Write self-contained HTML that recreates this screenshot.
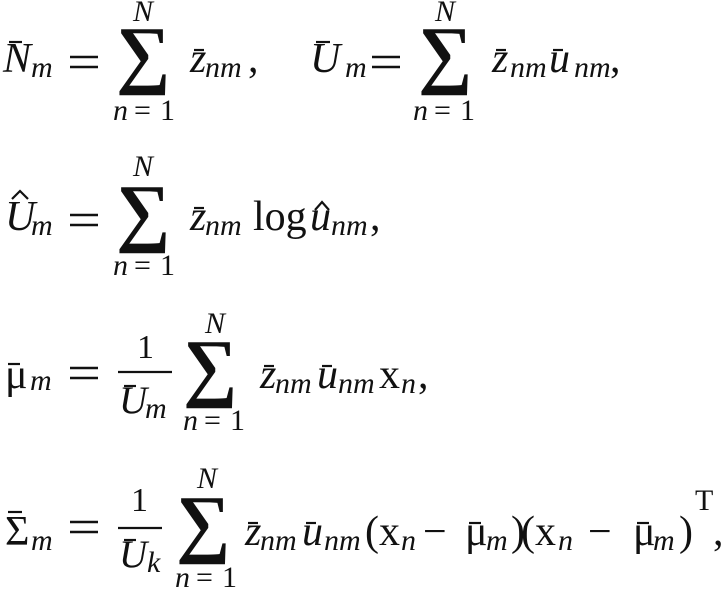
<!DOCTYPE html>
<html><head><meta charset="utf-8"><style>
html,body{margin:0;padding:0;background:#fff}
svg{display:block}
text{font-family:"Liberation Serif",serif;fill:#111}
.i{font-style:italic}
.M{font-size:42px}.S{font-size:30px}.B{font-size:76px;font-weight:bold}.F{font-size:34px}.FU{font-size:39px}
</style></head><body>
<svg width="726" height="591" viewBox="0 0 726 591" xmlns="http://www.w3.org/2000/svg">
<g stroke="#111" stroke-width="2.2" fill="none">
<line x1="9" y1="42" x2="22" y2="42"/><line x1="194" y1="50" x2="204" y2="50"/>
<line x1="316" y1="42" x2="330" y2="42"/><line x1="496" y1="50" x2="506" y2="50"/><line x1="553" y1="50" x2="563" y2="50"/>
<line x1="194" y1="208" x2="204" y2="208"/>
<line x1="8" y1="364" x2="20" y2="364"/><line x1="264" y1="366" x2="274" y2="366"/><line x1="322" y1="366" x2="332" y2="366"/>
<line x1="124" y1="386" x2="136" y2="386"/>
<line x1="8" y1="512" x2="22" y2="512"/><line x1="248" y1="523" x2="258" y2="523"/><line x1="306" y1="523" x2="316" y2="523"/>
<line x1="469" y1="523" x2="481" y2="523"/><line x1="637" y1="523" x2="649" y2="523"/><line x1="124" y1="540" x2="136" y2="540"/>
<line x1="118" y1="372" x2="172" y2="372"/><line x1="118" y1="528" x2="162" y2="528"/>
<polyline points="12,199 20,191 28,199"/><polyline points="315,210 322,202 329,210"/>
</g>
<g stroke="#111" stroke-width="2.6">
<line x1="70" y1="57" x2="98" y2="57"/><line x1="70" y1="67" x2="98" y2="67"/>
<line x1="372" y1="57" x2="400" y2="57"/><line x1="372" y1="67" x2="400" y2="67"/>
<line x1="70" y1="215" x2="98" y2="215"/><line x1="70" y1="225" x2="98" y2="225"/>
<line x1="70" y1="368" x2="98" y2="368"/><line x1="70" y1="378" x2="98" y2="378"/>
<line x1="70" y1="522" x2="98" y2="522"/><line x1="70" y1="532" x2="98" y2="532"/>
</g>
<!-- Row 1 -->
<text class="M i" x="3" y="72">N</text><text class="S i" x="31" y="77">m</text>
<text class="B" x="116" y="79">∑</text>
<text class="S i" x="133" y="21">N</text><text class="S i" x="113" y="120">n</text><text class="S" x="134" y="120">=</text><text class="S" x="160" y="120">1</text>
<text class="M i" x="190" y="72">z</text><text class="S i" x="205" y="77">nm</text><text class="M" x="248" y="72">,</text>
<text class="M i" x="310" y="72">U</text><text class="S i" x="345" y="77">m</text>
<text class="B" x="418" y="79">∑</text>
<text class="S i" x="435" y="21">N</text><text class="S i" x="413" y="120">n</text><text class="S" x="434" y="120">=</text><text class="S" x="460" y="120">1</text>
<text class="M i" x="492" y="72">z</text><text class="S i" x="510" y="77">nm</text>
<text class="M i" x="549" y="72">u</text><text class="S i" x="574" y="77">nm</text><text class="M" x="610" y="72">,</text>
<!-- Row 2 -->
<text class="M i" x="5" y="230">U</text><text class="S i" x="31" y="235">m</text>
<text class="B" x="116" y="237">∑</text>
<text class="S i" x="133" y="176">N</text><text class="S i" x="113" y="275">n</text><text class="S" x="134" y="275">=</text><text class="S" x="160" y="275">1</text>
<text class="M i" x="190" y="230">z</text><text class="S i" x="205" y="235">nm</text>
<text class="M" x="253" y="230">log</text>
<text class="M i" x="310" y="230">u</text><text class="S i" x="331" y="235">nm</text><text class="M" x="370" y="230">,</text>
<!-- Row 3 -->
<text class="M" x="5" y="388">μ</text><text class="S i" x="30" y="390">m</text>
<text class="F" x="137" y="358">1</text>
<text class="FU i" x="119" y="413">U</text><text class="S i" x="145" y="418">m</text>
<text class="B" x="183" y="392">∑</text>
<text class="S i" x="205" y="333">N</text><text class="S i" x="183" y="430">n</text><text class="S" x="204" y="430">=</text><text class="S" x="230" y="430">1</text>
<text class="M i" x="260" y="388">z</text><text class="S i" x="275" y="393">nm</text>
<text class="M i" x="317" y="388">u</text><text class="S i" x="338" y="393">nm</text>
<text class="M" x="379" y="388">x</text><text class="S i" x="401" y="393">n</text><text class="M" x="418" y="388">,</text>
<!-- Row 4 -->
<text class="M" x="5" y="545">Σ</text><text class="S i" x="31" y="550">m</text>
<text class="F" x="131" y="511">1</text>
<text class="FU i" x="119" y="567">U</text><text class="S i" x="147" y="572">k</text>
<text class="B" x="176" y="548">∑</text>
<text class="S i" x="197" y="488">N</text><text class="S i" x="175" y="587">n</text><text class="S" x="196" y="587">=</text><text class="S" x="222" y="587">1</text>
<text class="M i" x="245" y="545">z</text><text class="S i" x="260" y="550">nm</text>
<text class="M i" x="302" y="545">u</text><text class="S i" x="324" y="550">nm</text>
<text class="M" x="365" y="545">(</text><text class="M" x="379" y="545">x</text><text class="S i" x="401" y="550">n</text>
<text class="M" x="423" y="545">−</text>
<text class="M" x="465" y="545">μ</text><text class="S i" x="486" y="550">m</text><text class="M" x="511" y="545">)</text>
<text class="M" x="521" y="545">(</text><text class="M" x="535" y="545">x</text><text class="S i" x="558" y="550">n</text>
<text class="M" x="588" y="545">−</text>
<text class="M" x="633" y="545">μ</text><text class="S i" x="653" y="550">m</text><text class="M" x="679" y="545">)</text>
<text class="S" x="695" y="510">T</text><text class="M" x="713" y="545">,</text>
</svg>
</body></html>
